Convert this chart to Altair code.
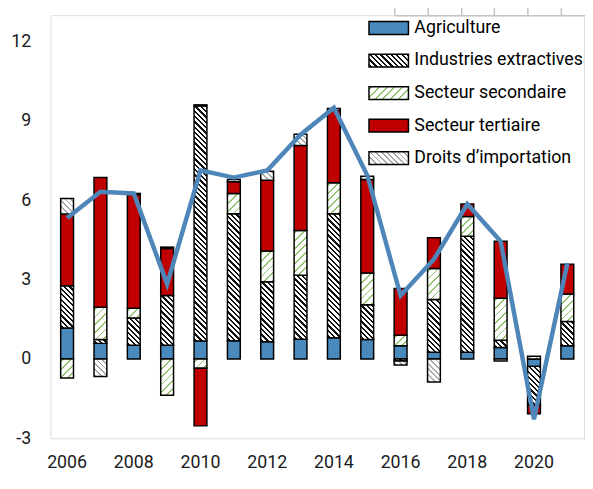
import json
import math
import altair as alt

# ---------------- data ----------------
YEARS = [str(y) for y in range(2006, 2022)]
SERIES = ["Agriculture", "Industries extractives", "Secteur secondaire",
          "Secteur tertiaire", "Droits d\u2019importation"]

agriculture = [1.17, 0.59, 0.52, 0.52, 0.68, 0.69, 0.65, 0.75, 0.80, 0.74, 0.50, 0.25, 0.25, 0.43, -0.28, 0.50]
industries  = [1.60, 0.15, 1.03, 1.88, 8.89, 4.80, 2.27, 2.42, 4.69, 1.31, -0.08, 2.00, 4.39, 0.28, -1.47, 0.92]
secondaire  = [-0.72, 1.22, 0.37, -1.37, -0.35, 0.77, 1.16, 1.69, 1.17, 1.20, 0.40, 1.17, 0.75, 1.59, 0.10, 1.04]
tertiaire   = [2.71, 4.90, 4.30, 1.78, -2.18, 0.44, 2.68, 3.21, 2.74, 3.54, 1.77, 1.16, 0.47, 2.15, -0.32, 1.12]
droits      = [0.59, -0.66, 0.04, 0.05, 0.04, 0.09, 0.34, 0.43, 0.07, 0.12, -0.15, -0.87, 0.0, -0.08, 0.0, 0.0]
total       = [5.33, 6.32, 6.26, 2.83, 7.13, 6.86, 7.13, 8.48, 9.50, 6.95, 2.40, 3.77, 5.86, 4.45, -2.28, 3.62]

EVEN_YEARS = [str(y) for y in range(2006, 2021, 2)]
Y_TICKS = [-3, 0, 3, 6, 9, 12]

# ---------------- layout / style ----------------
PLOT_W, PLOT_H = 541, 429
Y_MIN, Y_MAX = -3, 13
PX_PER_UNIT = PLOT_H / (Y_MAX - Y_MIN)
ZERO_PX = PLOT_H * Y_MAX / (Y_MAX - Y_MIN)
BAR_W = 13
FONT = "Roboto, sans-serif"
GRAY = "#c4c4c4"
BLUE = "#4a89bb"
RED = "#c00000"


def hatch(w, h, period, lw, line_color, bg, direction):
    """Diagonal stripes as a linear gradient in object-bounding-box units."""
    h = max(h, 0.5)
    D = (w + h) / math.sqrt(2)
    c = (w + h) / (w * w + h * h)
    if direction == "back":      # "\" stripes
        x1, y1, x2, y2 = 0, 1, c * w, 1 - c * h
    else:                        # "/" stripes
        x1, y1, x2, y2 = 0, 0, c * w, c * h
    stops = [{"offset": 0, "color": bg}]
    k = 0
    while True:
        a = (k * period + period * 0.3) / D
        b = (k * period + period * 0.3 + lw) / D
        if a >= 1:
            break
        b = min(b, 1)
        stops += [{"offset": round(a, 5), "color": bg},
                  {"offset": round(a, 5), "color": line_color},
                  {"offset": round(b, 5), "color": line_color},
                  {"offset": round(b, 5), "color": bg}]
        k += 1
    stops.append({"offset": 1, "color": bg})
    return {"gradient": "linear", "x1": round(x1, 5), "y1": round(y1, 5),
            "x2": round(x2, 5), "y2": round(y2, 5), "stops": stops}


def fill_for(name, w, h):
    if name == "Agriculture":
        return BLUE
    if name == "Secteur tertiaire":
        return RED
    if name == "Industries extractives":
        return hatch(w, h, 3.8, 1.6, "#111111", "#ffffff", "back")
    if name == "Secteur secondaire":
        return hatch(w, h, 5.5, 1.3, "#93c36f", "#ffffff", "fwd")
    return hatch(w, h, 4.0, 1.2, "#a8a8a8", "#ffffff", "back")


VALUES = [agriculture, industries, secondaire, tertiaire, droits]
records = []
for i, yr in enumerate(YEARS):
    for s, (name, vals) in enumerate(zip(SERIES, VALUES)):
        v = vals[i]
        if v == 0:
            continue
        records.append({"year": yr, "series": name, "value": v, "ord": s,
                        "grad": fill_for(name, BAR_W, abs(v) * PX_PER_UNIT)})

line_records = [{"year": yr, "total": t} for yr, t in zip(YEARS, total)]

y_scale = alt.Scale(domain=[Y_MIN, Y_MAX], nice=False, zero=False)
x_scale = alt.Scale(paddingInner=0, paddingOuter=0)

bars = alt.Chart(alt.Data(values=records)).mark_bar(
    size=BAR_W, stroke="black", strokeWidth=1.5
).encode(
    x=alt.X("year:O", scale=x_scale, title=None,
            axis=alt.Axis(orient="bottom", values=EVEN_YEARS, labelAngle=0,
                          ticks=False, domain=False, grid=False,
                          labelFont=FONT, labelFontSize=18, labelColor="#1a1a1a",
                          labelPadding=16)),
    y=alt.Y("value:Q", stack="zero", scale=y_scale, title=None,
            axis=alt.Axis(orient="left", values=Y_TICKS, ticks=False,
                          domain=False, grid=False, labelFont=FONT,
                          labelFontSize=18, labelColor="#1a1a1a",
                          labelPadding=20, labelExpr="'' + datum.value")),
    fill=alt.Fill("grad:N", scale=None, legend=None),
    order=alt.Order("ord:Q", sort="ascending"),
)

line = alt.Chart(alt.Data(values=line_records)).mark_line(
    color="#4e86b9", strokeWidth=4.5
).encode(
    x=alt.X("year:O", scale=x_scale, title=None,
            axis=alt.Axis(orient="top", position=ZERO_PX, labels=False,
                          ticks=True, tickBand="extent", tickSize=8,
                          tickColor=GRAY, tickWidth=1.5, domain=True,
                          domainColor=GRAY, domainWidth=1.5, grid=False)),
    y=alt.Y("total:Q", scale=y_scale, title=None,
            axis=alt.Axis(orient="right", position=0, labels=False,
                          values=Y_TICKS, ticks=True, tickSize=6,
                          tickColor=GRAY, tickWidth=1.5, domain=False,
                          grid=False)),
)

LEG_W, LEG_H = 40, 13


def js_obj(d):
    return json.dumps(d, separators=(",", ":"))


legend_range = [
    BLUE,
    alt.ExprRef(expr=js_obj(fill_for("Industries extractives", LEG_W, LEG_H))),
    alt.ExprRef(expr=js_obj(fill_for("Secteur secondaire", LEG_W, LEG_H))),
    RED,
    alt.ExprRef(expr=js_obj(fill_for("Droits", LEG_W, LEG_H))),
]

legend_layer = alt.Chart(alt.Data(values=records)).transform_filter(
    "false"
).mark_bar().encode(
    x=alt.X("year:O", scale=x_scale, axis=None),
    y=alt.Y("value:Q", scale=y_scale, axis=None),
    color=alt.Color(
        "series:N",
        scale=alt.Scale(domain=SERIES, range=legend_range),
        legend=alt.Legend(
            orient="none", legendX=332, legendY=2, title=None,
            symbolType="M-2,-0.65H2V0.65H-2Z", symbolSize=400,
            symbolStrokeColor="black", symbolStrokeWidth=1.5,
            symbolOpacity=1, labelFont=FONT, labelFontSize=18,
            labelColor="black", labelOffset=15, rowPadding=12,
            padding=0, labelLimit=400,
        ),
    ),
)

chart = alt.layer(bars, line, legend_layer).properties(
    width=PLOT_W, height=PLOT_H,
    padding={"left": 43, "top": 4, "right": 1, "bottom": 40},
    autosize=alt.AutoSizeParams(type="none"),
).configure_view(
    stroke=GRAY, strokeWidth=1.5
).configure(background="white")

chart.save("out.html", embed_options={"renderer": "svg", "actions": False})
